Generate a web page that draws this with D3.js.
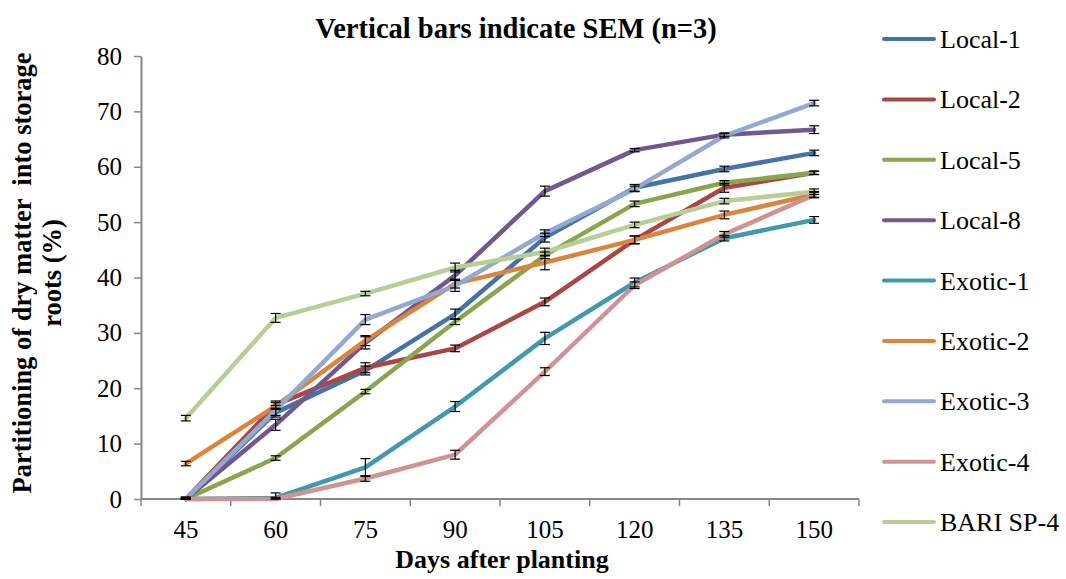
<!DOCTYPE html>
<html>
<head>
<meta charset="utf-8">
<script src="https://cdn.jsdelivr.net/npm/d3@7"></script>
<style>
  html, body { margin: 0; padding: 0; background: #fff; }
</style>
</head>
<body>
<svg id="chart" width="1066" height="579"></svg>
<script>
// Days after planting
const days = ["45", "60", "75", "90", "105", "120", "135", "150"];
const yTicks = [0, 10, 20, 30, 40, 50, 60, 70, 80];

// Partitioning of dry matter into storage roots (%) per genotype
const local1   = [0, 15.6, 23.2, 33.4, 47.2, 56.2, 59.6, 62.5];
const local2   = [0, 17.0, 23.7, 27.2, 35.6, 46.8, 56.2, 58.9];
const local5   = [0, 7.4, 19.4, 32.0, 44.0, 53.3, 57.1, 58.9];
const local8   = [0, 13.4, 28.2, 40.4, 55.6, 63.0, 65.8, 66.7];
const exotic1  = [0, 0.2, 5.7, 16.7, 29.0, 39.1, 47.1, 50.4];
const exotic2  = [6.4, 16.8, 28.6, 38.9, 42.7, 46.8, 51.3, 55.0];
const exotic3  = [0, 16.0, 32.4, 38.5, 48.0, 56.0, 65.6, 71.5];
const exotic4  = [0, 0, 3.7, 8.0, 23.0, 38.6, 47.8, 54.9];
const bariSP4  = [14.6, 32.7, 37.1, 41.8, 44.6, 49.5, 53.8, 55.5];

// Standard error of the mean (n=3)
const semLocal1  = [0.3, 0.8, 0.8, 0.9, 0.8, 0.6, 0.5, 0.5];
const semLocal2  = [0.3, 0.7, 0.9, 0.6, 0.7, 0.7, 0.8, 0.3];
const semLocal5  = [0.2, 0.4, 0.4, 0.5, 0.6, 0.5, 0.4, 0.3];
const semLocal8  = [0.3, 1.0, 1.1, 0.9, 0.9, 0.3, 0.3, 0.7];
const semExotic1 = [0.2, 0.9, 1.6, 0.9, 1.1, 0.8, 0.5, 0.6];
const semExotic2 = [0.4, 0.6, 0.9, 0.8, 1.3, 0.7, 0.7, 0.5];
const semExotic3 = [0.3, 0.9, 0.9, 1.0, 0.6, 0.5, 0.4, 0.5];
const semExotic4 = [0.2, 0.3, 0.5, 0.8, 0.7, 0.6, 0.5, 0.5];
const semBari    = [0.5, 0.8, 0.4, 0.8, 0.7, 0.5, 0.5, 0.5];

const seriesNames = ["Local-1", "Local-2", "Local-5", "Local-8", "Exotic-1",
                     "Exotic-2", "Exotic-3", "Exotic-4", "BARI SP-4"];
const seriesColors = ["#4572A7", "#AA4643", "#89A54E", "#71588F", "#4198AF",
                      "#DB843D", "#93A9CF", "#D19392", "#B9CD96"];

const series = [
  { name: seriesNames[0], color: seriesColors[0], values: local1,  sem: semLocal1 },
  { name: seriesNames[1], color: seriesColors[1], values: local2,  sem: semLocal2 },
  { name: seriesNames[2], color: seriesColors[2], values: local5,  sem: semLocal5 },
  { name: seriesNames[3], color: seriesColors[3], values: local8,  sem: semLocal8 },
  { name: seriesNames[4], color: seriesColors[4], values: exotic1, sem: semExotic1 },
  { name: seriesNames[5], color: seriesColors[5], values: exotic2, sem: semExotic2 },
  { name: seriesNames[6], color: seriesColors[6], values: exotic3, sem: semExotic3 },
  { name: seriesNames[7], color: seriesColors[7], values: exotic4, sem: semExotic4 },
  { name: seriesNames[8], color: seriesColors[8], values: bariSP4, sem: semBari }
];

const FONT = "Liberation Serif";
const svg = d3.select("#chart");
const plot = { left: 141, right: 859, top: 56, bottom: 499 };
const axisColor = "#868686";

const x = d3.scalePoint().domain(days).range([plot.left, plot.right]).padding(0.5);
const y = d3.scaleLinear().domain([0, 80]).range([plot.bottom, plot.top]);

// Title
svg.append("text")
  .attr("x", 516).attr("y", 38)
  .attr("text-anchor", "middle")
  .attr("font-family", FONT)
  .attr("font-weight", "bold")
  .attr("font-size", 28.5)
  .text("Vertical bars indicate SEM (n=3)");

// Y axis
const yAxis = svg.append("g")
  .attr("transform", `translate(${plot.left},0)`)
  .call(d3.axisLeft(y).tickValues(yTicks).tickSize(7).tickPadding(12).tickSizeOuter(0));
yAxis.attr("font-family", FONT);
yAxis.select(".domain").attr("stroke", axisColor).attr("stroke-width", 2);
yAxis.selectAll(".tick line").attr("stroke", axisColor).attr("stroke-width", 1.5);
yAxis.selectAll(".tick text")
  .attr("font-family", FONT)
  .attr("font-size", 25).attr("fill", "#000");

// X axis: category labels centred in their bands, ticks on the band edges
const step = x.step();
const xAxisG = svg.append("g");
xAxisG.append("line")
  .attr("x1", plot.left).attr("x2", plot.right)
  .attr("y1", plot.bottom).attr("y2", plot.bottom)
  .attr("stroke", axisColor).attr("stroke-width", 2);
const edges = d3.range(days.length + 1).map(i => x(days[0]) - step / 2 + i * step);
xAxisG.selectAll("line.tick").data(edges).join("line")
  .attr("class", "tick")
  .attr("x1", d => d).attr("x2", d => d)
  .attr("y1", plot.bottom).attr("y2", plot.bottom + 7)
  .attr("stroke", axisColor).attr("stroke-width", 1.5);
xAxisG.selectAll("text").data(days).join("text")
  .attr("x", d => x(d)).attr("y", 538)
  .attr("text-anchor", "middle")
  .attr("font-family", FONT)
  .attr("font-size", 25)
  .text(d => d);

// Axis titles
svg.append("text")
  .attr("x", 502).attr("y", 568)
  .attr("text-anchor", "middle")
  .attr("font-family", FONT)
  .attr("font-weight", "bold")
  .attr("font-size", 26)
  .text("Days after planting");

const yTitle = svg.append("text")
  .attr("transform", "translate(0,273) rotate(-90)")
  .attr("text-anchor", "middle")
  .attr("font-family", FONT)
  .attr("font-weight", "bold")
  .attr("font-size", 26.5);
yTitle.append("tspan").attr("x", 0).attr("y", 31).attr("xml:space", "preserve")
  .attr("font-family", FONT)
  .text("Partitioning of dry matter  into storage");
yTitle.append("tspan").attr("x", 0).attr("y", 61)
  .attr("font-family", FONT)
  .text("roots (%)");

// Lines
const line = d3.line()
  .x((d, i) => x(days[i]))
  .y(d => y(d));

svg.append("g").selectAll("path").data(series).join("path")
  .attr("d", s => line(s.values))
  .attr("fill", "none")
  .attr("stroke", s => s.color)
  .attr("stroke-width", 4.5)
  .attr("stroke-linejoin", "round")
  .attr("stroke-linecap", "round");

// SEM error bars
const capHalf = 5;
const errG = svg.append("g").attr("stroke", "#000").attr("stroke-width", 1.2);
series.forEach(s => {
  s.values.forEach((v, i) => {
    const cx = x(days[i]);
    const lo = Math.max(0, v - s.sem[i]), hi = v + s.sem[i];
    errG.append("line").attr("x1", cx).attr("x2", cx).attr("y1", y(lo)).attr("y2", y(hi));
    errG.append("line").attr("x1", cx - capHalf).attr("x2", cx + capHalf).attr("y1", y(hi)).attr("y2", y(hi));
    errG.append("line").attr("x1", cx - capHalf).attr("x2", cx + capHalf).attr("y1", y(lo)).attr("y2", y(lo));
  });
});

// Legend
const legend = svg.append("g").attr("font-family", FONT);
const legendY = d3.scalePoint().domain(seriesNames).range([39, 522]);
const items = legend.selectAll("g").data(series).join("g")
  .attr("transform", s => `translate(0,${legendY(s.name)})`);
items.append("line")
  .attr("x1", 884).attr("x2", 934)
  .attr("stroke", s => s.color)
  .attr("stroke-width", 4)
  .attr("stroke-linecap", "round");
items.append("text")
  .attr("x", 940).attr("y", 9)
  .attr("font-family", FONT)
  .attr("font-size", 26)
  .text(s => s.name);
</script>
</body>
</html>
